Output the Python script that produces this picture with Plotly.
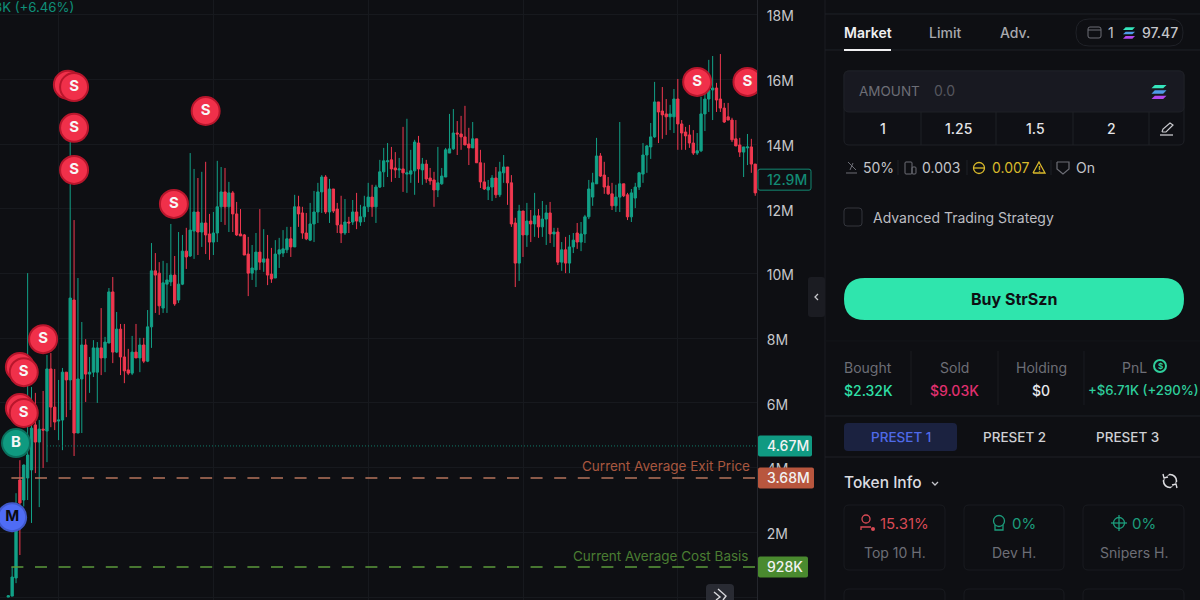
import plotly.graph_objects as go

BG = '#0e0f13'
GREEN = '#12a187'
RED = '#f0384f'
FONT = 'Inter'

opens = [0.0, 0.03, 0.59, 3.62, 3.0, 3.68, 3.93, 5.32, 4.79, 5.19, 5.13, 7.05, 5.87, 5.44, 5.47, 6.95, 6.71, 9.18, 5.07, 6.74,
         7.79, 6.89, 6.95, 6.95, 7.7, 7.39, 7.85, 9.43, 7.57, 8.28, 7.42, 7.02, 6.92, 7.57, 7.39, 7.79, 7.29, 8.35, 10.08, 10.01,
         8.93, 9.67, 9.74, 9.95, 9.18, 9.67, 10.69, 10.54, 11.31, 11.9, 11.28, 11.56, 11.22, 10.97, 11.25, 12.06, 12.52, 12.06, 12.49, 11.84,
         11.22, 11.19, 10.6, 10.01, 10.11, 10.66, 10.35, 10.45, 9.98, 9.86, 10.6, 10.63, 10.73, 11.07, 10.82, 12.06, 11.87, 11.25, 11.03, 11.53,
         11.9, 12.52, 12.98, 11.9, 12.61, 11.99, 11.5, 11.25, 11.59, 11.59, 11.9, 11.59, 11.75, 12.06, 12.36, 12.06, 12.67, 13.14, 13.45, 13.51,
         13.26, 13.2, 13.23, 13.07, 13.07, 13.17, 14.03, 13.2, 13.38, 12.95, 12.89, 12.58, 12.77, 12.98, 13.72, 13.85, 14.34, 14.31, 14.22, 14.0,
         13.88, 14.16, 13.42, 12.83, 12.58, 12.67, 12.95, 12.43, 13.11, 13.29, 12.8, 11.56, 10.32, 11.93, 11.19, 11.62, 11.53, 11.78, 11.44, 11.68,
         11.87, 11.22, 11.28, 10.35, 10.73, 10.32, 10.82, 11.25, 10.97, 11.22, 11.75, 12.36, 12.77, 13.63, 13.04, 12.7, 12.46, 12.09, 12.36, 12.77,
         12.43, 11.75, 12.33, 12.67, 13.07, 13.66, 13.91, 14.22, 15.3, 15.02, 14.93, 14.84, 14.84, 15.39, 14.62, 14.37, 14.28, 14.03, 13.72, 13.79,
         14.93, 15.39, 15.67, 15.73, 15.39, 15.11, 14.84, 14.74, 14.16, 13.97, 13.75, 13.88, 13.91, 13.38]
highs = [0.06, 0.93, 3.21, 4.23, 4.1, 10.01, 6.49, 6.31, 5.47, 6.37, 7.48, 7.54, 7.05, 6.71, 7.08, 6.95, 14.13, 11.65, 9.86, 8.5,
         7.97, 7.42, 7.94, 7.88, 8.93, 8.04, 9.55, 9.89, 8.81, 8.44, 8.44, 7.67, 8.07, 8.44, 8.01, 8.01, 8.87, 10.94, 10.63, 10.35,
         10.39, 10.32, 11.53, 10.54, 11.28, 11.19, 11.41, 13.72, 13.23, 12.95, 13.14, 13.45, 11.84, 11.9, 13.48, 13.29, 13.26, 12.83, 12.55, 12.21,
         11.99, 11.22, 11.13, 10.88, 11.25, 11.99, 11.37, 11.19, 10.79, 11.03, 11.1, 11.34, 11.44, 11.44, 12.43, 12.4, 12.06, 11.87, 12.18, 12.55,
         12.8, 13.04, 13.04, 12.92, 12.61, 12.18, 12.4, 12.3, 11.75, 12.27, 12.49, 12.12, 12.4, 12.8, 12.74, 12.74, 13.51, 13.88, 14.03, 13.91,
         13.75, 13.57, 14.53, 14.78, 13.82, 14.13, 14.25, 13.57, 13.51, 13.26, 13.14, 13.91, 13.26, 13.88, 14.93, 15.08, 14.71, 14.87, 15.18, 14.5,
         14.68, 14.16, 13.82, 13.42, 12.89, 13.04, 13.29, 13.45, 13.66, 13.29, 13.04, 11.72, 12.12, 11.93, 12.18, 11.96, 12.49, 11.99, 12.24, 12.12,
         12.21, 11.41, 11.41, 10.97, 11.13, 11.19, 11.25, 11.56, 11.59, 11.81, 12.89, 13.11, 14.19, 13.72, 13.45, 12.98, 12.8, 12.74, 14.68, 12.77,
         12.49, 12.61, 12.8, 13.14, 14.03, 13.97, 14.65, 15.92, 15.3, 15.76, 15.39, 15.21, 15.7, 16.01, 14.74, 14.53, 14.59, 14.43, 14.34, 15.46,
         15.58, 16.6, 16.72, 15.89, 16.78, 15.27, 15.27, 14.81, 14.74, 14.19, 13.91, 14.31, 14.16, 13.38]
lows = [0.0, 0.03, 0.43, 1.3, 2.8, 3.0, 2.29, 3.83, 2.78, 3.99, 4.17, 5.25, 5.16, 4.85, 4.54, 5.56, 5.78, 4.36, 5.07, 5.07,
        6.03, 6.31, 6.8, 6.0, 6.86, 6.95, 7.85, 7.23, 7.54, 6.86, 6.61, 6.86, 6.86, 7.39, 6.95, 7.23, 7.26, 7.7, 8.78, 8.72,
        8.78, 8.78, 9.61, 9.0, 9.09, 9.64, 10.14, 10.51, 10.45, 10.57, 10.82, 10.6, 10.42, 10.57, 10.97, 11.59, 11.5, 11.28, 11.28, 11.16,
        11.16, 10.57, 9.3, 9.8, 9.58, 10.11, 10.05, 9.64, 9.71, 9.86, 10.17, 10.51, 10.63, 10.51, 10.82, 11.44, 11.07, 11.03, 11.0, 10.97,
        11.56, 11.87, 11.84, 11.56, 11.87, 11.25, 10.94, 11.19, 11.25, 11.5, 11.37, 11.47, 11.59, 11.9, 11.75, 11.56, 12.64, 12.67, 12.98, 12.83,
        12.95, 12.95, 12.52, 12.49, 12.8, 12.43, 12.8, 12.74, 12.8, 12.74, 12.06, 12.36, 12.74, 12.98, 13.72, 13.82, 13.66, 13.82, 13.97, 13.35,
        13.88, 13.42, 12.64, 12.58, 12.27, 12.24, 12.33, 12.36, 12.8, 12.12, 11.44, 9.58, 9.77, 10.51, 10.82, 10.97, 11.13, 11.1, 11.13, 10.88,
        10.94, 10.82, 10.26, 10.08, 10.01, 10.01, 10.63, 10.76, 10.69, 10.94, 11.68, 12.09, 12.77, 12.98, 12.46, 12.43, 11.96, 11.9, 11.9, 12.36,
        11.65, 11.59, 12.02, 12.58, 12.8, 13.11, 13.54, 14.19, 14.03, 14.16, 14.28, 14.43, 14.34, 13.82, 13.82, 13.82, 13.88, 13.66, 13.66, 13.75,
        14.4, 14.99, 14.74, 14.99, 14.99, 14.65, 14.74, 14.06, 13.94, 13.6, 12.98, 13.35, 13.11, 12.4]
closes = [0.04, 0.62, 2.07, 2.91, 4.08, 4.39, 5.22, 4.79, 5.19, 5.16, 7.05, 5.87, 5.41, 5.47, 6.95, 6.71, 9.24, 5.07, 6.74, 7.79,
          6.89, 6.95, 7.7, 7.7, 7.39, 7.88, 9.43, 7.57, 8.28, 7.42, 6.99, 6.92, 7.57, 7.39, 7.79, 7.29, 8.35, 10.08, 9.95, 9.0,
          9.71, 9.8, 9.95, 9.06, 9.67, 10.69, 10.51, 11.34, 11.9, 11.28, 11.56, 11.19, 10.97, 11.25, 12.06, 12.52, 12.06, 12.49, 11.84, 11.19,
          11.16, 10.57, 10.01, 10.17, 10.66, 10.35, 10.45, 9.95, 9.83, 10.6, 10.73, 10.76, 11.07, 10.82, 12.06, 11.84, 11.25, 11.07, 11.53, 11.9,
          12.52, 12.98, 11.9, 12.61, 11.93, 11.5, 11.25, 11.59, 11.56, 11.9, 11.62, 11.75, 12.06, 12.36, 12.06, 12.67, 13.14, 13.48, 13.48, 13.23,
          13.2, 13.23, 13.11, 13.11, 13.17, 14.06, 13.23, 13.38, 12.92, 12.86, 12.58, 12.8, 13.01, 13.82, 13.85, 14.34, 14.31, 14.22, 13.97, 13.88,
          14.16, 13.42, 12.83, 12.61, 12.67, 12.95, 12.43, 13.14, 13.29, 12.8, 11.53, 10.32, 11.93, 11.19, 11.62, 11.53, 11.78, 11.44, 11.68, 11.87,
          11.22, 11.28, 10.35, 10.73, 10.32, 10.82, 11.03, 10.97, 11.22, 11.75, 12.61, 12.8, 13.63, 13.01, 12.67, 12.46, 12.09, 12.36, 12.77, 12.4,
          11.75, 12.49, 12.67, 13.11, 13.66, 13.94, 14.22, 15.3, 14.99, 14.9, 14.84, 14.93, 15.39, 14.62, 14.34, 14.25, 14.03, 13.72, 13.79, 14.93,
          15.39, 15.67, 15.73, 15.36, 15.11, 14.68, 14.74, 14.13, 13.94, 13.75, 13.91, 13.91, 13.38, 12.49]

y_ticks = [0, 2, 4, 6, 8, 10, 12, 14, 16, 18]
y_tick_labels = ['0', '2M', '4M', '6M', '8M', '10M', '12M', '14M', '16M', '18M']
x_grid = [13, 53, 93, 133, 173]

sell_idx = [15.4, 17, 17, 17, 51, 42.8, 9, 3, 4, 3, 4, 178, 191]
sell_price = [15.83, 15.76, 14.5, 13.2, 15.02, 12.15, 7.97, 7.11, 6.95, 5.84, 5.69, 15.92, 15.92]
sell_text = ['', 'S', 'S', 'S', 'S', 'S', 'S', '', 'S', '', 'S', 'S', 'S']
buy_idx = [2]
buy_price = [4.76]
migrate_idx = [1]
migrate_price = [2.47]

last_level = 4.67
exit_level = 3.68
cost_level = 0.928
current_price = 12.9

Y_LOW = -0.09
Y_HIGH = 18.45
LABEL_NUDGE = 0.06  # tick labels sit about 2px under their grid line


# everything outside the plot is laid out in screen pixels
def px(x):
    return x / 1200


def py(y):
    return 1 - y / 600


def pth(d_pts, closed=False):
    d = ''
    for i, (x, y) in enumerate(d_pts):
        d += ('M' if i == 0 else 'L') + f'{px(x):.5f},{py(y):.5f}'
    return d + ('Z' if closed else '')


shapes = []
notes = []


def rr(x0, y0, x1, y1, r, fill=None, line=None, lw=1):
    d = (f'M{px(x0 + r):.5f},{py(y0):.5f}L{px(x1 - r):.5f},{py(y0):.5f}Q{px(x1):.5f},{py(y0):.5f} {px(x1):.5f},{py(y0 + r):.5f}'
         f'L{px(x1):.5f},{py(y1 - r):.5f}Q{px(x1):.5f},{py(y1):.5f} {px(x1 - r):.5f},{py(y1):.5f}'
         f'L{px(x0 + r):.5f},{py(y1):.5f}Q{px(x0):.5f},{py(y1):.5f} {px(x0):.5f},{py(y1 - r):.5f}'
         f'L{px(x0):.5f},{py(y0 + r):.5f}Q{px(x0):.5f},{py(y0):.5f} {px(x0 + r):.5f},{py(y0):.5f}Z')
    shapes.append(dict(type='path', xref='paper', yref='paper', path=d, fillcolor=fill or 'rgba(0,0,0,0)',
                       line=dict(color=line or 'rgba(0,0,0,0)', width=lw if line else 0)))


def ln(pts, color, lw=1):
    shapes.append(dict(type='path', xref='paper', yref='paper', path=pth(pts), line=dict(color=color, width=lw)))


def poly(pts, fill):
    shapes.append(dict(type='path', xref='paper', yref='paper', path=pth(pts, True), fillcolor=fill, line=dict(width=0)))


def circ(cx, cy, r, line=None, fill=None, lw=1.2):
    shapes.append(dict(type='circle', xref='paper', yref='paper', x0=px(cx - r), x1=px(cx + r), y0=py(cy + r), y1=py(cy - r),
                       fillcolor=fill or 'rgba(0,0,0,0)', line=dict(color=line or 'rgba(0,0,0,0)', width=lw if line else 0)))


def txt(x, y, s, color, size=14, anchor='center', weight=400):
    # annotations pad their box by a couple of px
    if anchor == 'left':
        x -= 2
    if anchor == 'right':
        x += 2
    notes.append(dict(xref='paper', yref='paper', x=px(x), y=py(y), text=s, showarrow=False, xanchor=anchor, yanchor='middle',
                      font=dict(family=FONT, size=size, color=color, weight=weight)))


def solana(cx, cy, w):
    h = w * 0.22
    cols = ['#35e6bd', '#4f9be8', '#b347ee']
    for k, c in enumerate(cols):
        yy = cy + (k - 1) * w * 0.36
        poly([(cx - w / 2 + h, yy - h / 2), (cx + w / 2, yy - h / 2), (cx + w / 2 - h, yy + h / 2), (cx - w / 2, yy + h / 2)], c)


# price tags sit on the axis, tied to their price level
def tag(level, label, x1, fill, color, border=None):
    half = 10.5
    top = (597 - level / 0.03091 - half)
    rr(758, top, x1, top + 2 * half, 2, fill=fill, line=border)
    txt(767, top + half, label, color, 14, 'left', weight=500)


GRAY = '#6d6e76'
LIGHT = '#c4c5ca'
EDGE = '#1f2127'

# right hand panel
ln([(825, 0), (825, 600)], '#1b1d22')
ln([(825, 14), (1200, 14)], EDGE)
ln([(825, 50), (1200, 50)], EDGE)
txt(844, 32, 'Market', '#f0f0f2', 14, 'left', 600)
ln([(844, 50), (891, 50)], '#f0f0f2', 2)
txt(929, 32, 'Limit', '#a8a9ae', 14, 'left', 500)
txt(1000, 32, 'Adv.', '#a8a9ae', 14, 'left', 500)
rr(1076, 19, 1183, 46, 13, line=EDGE)
rr(1088, 27, 1101, 38, 2, line=GRAY)
ln([(1088, 30), (1101, 30)], GRAY)
txt(1111, 32, '1', LIGHT, 14)
solana(1129, 33, 12)
txt(1160, 32, '97.47', LIGHT, 14, weight=500)

rr(844, 71, 1184, 145, 5, fill='#0f1015', line=EDGE)
rr(844, 71, 1184, 112, 5, fill='#181921', line=EDGE)
txt(859, 91, 'AMOUNT', GRAY, 13.5, 'left')
txt(934, 91, '0.0', '#55565e', 14, 'left')
solana(1159, 92, 15)
for sx in [921, 996, 1073, 1149]:
    ln([(sx, 112), (sx, 145)], EDGE)
for cx, s in [(883, '1'), (958, '1.25'), (1035, '1.5'), (1111, '2')]:
    txt(cx, 129, s, '#e4e4e8', 14, weight=500)
ln([(1160, 135), (1173, 135)], '#c9c9ce', 1.3)
ln([(1162, 132), (1163, 129), (1170, 123), (1173, 125), (1166, 132), (1162, 132)], '#c9c9ce', 1.2)

ln([(846, 173), (857, 173)], GRAY)
ln([(848, 162), (856, 170)], GRAY)
ln([(850, 170), (853, 163)], GRAY)
txt(863, 167, '50%', LIGHT, 14, 'left')
ln([(898, 160), (898, 175)], EDGE)
rr(905, 162, 912, 174, 1, line=GRAY)
rr(912, 167, 916, 174, 1, line=GRAY)
txt(922, 167, '0.003', LIGHT, 14, 'left')
ln([(967, 160), (967, 175)], EDGE)
circ(979, 168, 5.5, line='#d9b92b', lw=1.3)
ln([(974, 168), (985, 168)], '#d9b92b', 1.3)
txt(992, 167, '0.007', '#d9b92b', 14, 'left')
ln([(1033, 173), (1039, 162), (1045, 173), (1033, 173)], '#d9b92b', 1.3)
txt(1039, 169, '!', '#d9b92b', 8, weight=700)
ln([(1051, 160), (1051, 175)], EDGE)
ln([(1057, 162), (1069, 162), (1069, 169), (1063, 174), (1057, 169), (1057, 162)], GRAY, 1.2)
txt(1076, 167, 'On', LIGHT, 14, 'left')

rr(844, 208, 862, 226, 3, line='#34363d')
txt(873, 217, 'Advanced Trading Strategy', '#bcbdc2', 14, 'left', 400)

rr(844, 278, 1184, 320, 21, fill='#2fe5ad')
txt(1014, 299, 'Buy StrSzn', '#0e1013', 16, weight=700)

ln([(825, 341), (1200, 341)], '#14161a')
for sx in [911, 998, 1084]:
    ln([(sx, 351), (sx, 405)], '#1a1c21')
txt(868, 367, 'Bought', GRAY, 14)
txt(868, 390, '$2.32K', '#2fe0a8', 14, weight=500)
txt(954, 367, 'Sold', GRAY, 14)
txt(954, 390, '$9.03K', '#e0306f', 14, weight=500)
txt(1041, 367, 'Holding', GRAY, 14)
txt(1041, 390, '$0', '#e8e8ec', 14, weight=500)
txt(1134, 367, 'PnL', GRAY, 14)
circ(1160, 366, 6, line='#2fce9c', lw=2)
txt(1160, 366, '$', '#2fce9c', 8, weight=700)
txt(1143.5, 390, '+$6.71K (+290%)', '#2fce9c', 13.2, weight=500)

ln([(825, 416), (1200, 416)], EDGE)
ln([(825, 457), (1200, 457)], EDGE)
rr(844, 423, 957, 451, 4, fill='#1b2240')
txt(901, 437, 'PRESET 1', '#4f6ae8', 13.5, weight=500)
txt(1014, 437, 'PRESET 2', '#cfd0d4', 13.5, weight=500)
txt(1127, 437, 'PRESET 3', '#cfd0d4', 13.5, weight=500)

txt(844, 482, 'Token Info', '#dcdce0', 15.5, 'left', 500)
ln([(932, 482), (935, 485), (938, 482)], '#c4c5ca', 1.3)
circ(1170, 481, 6.5, line='#dcdce0', lw=1.6)
ln([(1162, 479), (1168, 473)], BG, 3)
ln([(1178, 483), (1172, 489)], BG, 3)
ln([(1163, 474), (1164, 478), (1168, 477)], '#dcdce0', 1.4)
ln([(1177, 488), (1176, 484), (1172, 485)], '#dcdce0', 1.4)

for x0, x1 in [(844, 945), (964, 1064), (1083, 1184)]:
    rr(x0, 505, x1, 570, 5, line='#191b20')
    rr(x0, 589, x1, 640, 5, line='#191b20')

circ(866, 519, 4, line='#d84a55', lw=1.3)
ln([(861, 530), (861, 527), (871, 527)], '#d84a55', 1.3)
circ(873, 529, 2, fill='#d84a55')
txt(880, 523, '15.31%', '#d84a55', 15, 'left')
txt(895, 552, 'Top 10 H.', GRAY, 14)
circ(999, 521, 5.5, line='#1c9c7c', lw=1.3)
ln([(995, 525), (995, 530), (1003, 530), (1003, 525)], '#1c9c7c', 1.3)
txt(1012, 523, '0%', '#1c9c7c', 15, 'left')
txt(1014, 552, 'Dev H.', GRAY, 14)
circ(1119, 523, 5.5, line='#1c9c7c', lw=1.3)
ln([(1119, 515), (1119, 531)], '#1c9c7c', 1.3)
ln([(1111, 523), (1127, 523)], '#1c9c7c', 1.3)
txt(1132, 523, '0%', '#1c9c7c', 15, 'left')
txt(1134, 552, 'Snipers H.', GRAY, 14)

# bits on the chart side
rr(808, 277, 825, 317, 3, fill='#1b1c22')
ln([(818, 294), (815, 297), (818, 300)], '#c8c8cc', 1.3)
rr(706, 584, 734, 612, 4, fill='#292b33')
ln([(714, 592), (720, 597), (716, 600)], '#d8d8dc', 1.4)
ln([(718, 589), (726, 596), (723, 600)], '#d8d8dc', 1.4)

txt(74, 7, '3K (+6.46%)', '#0f9079', 13.2, 'right')
txt(750, 466, 'Current Average Exit Price', '#a9573f', 13.5, 'right')
txt(749, 556, 'Current Average Cost Basis', '#4a7d32', 13.5, 'right')

tag(last_level, '4.67M', 812, '#109a82', '#f2f2f2')
tag(exit_level, '3.68M', 814, '#b8563e', '#f2f2f2')
tag(cost_level, '928K', 808, '#4a8a2f', '#f2f2f2')
tag(current_price, '12.9M', 811, BG, '#138a73', '#138a73')

fig = go.Figure()
fig.add_trace(go.Candlestick(x=list(range(len(opens))), open=opens, high=highs, low=lows, close=closes,
                             increasing=dict(line=dict(color=GREEN, width=1), fillcolor=GREEN),
                             decreasing=dict(line=dict(color=RED, width=1), fillcolor=RED),
                             whiskerwidth=0, hoverinfo='skip'))

x_end = len(opens)
fig.add_scatter(x=[10, x_end], y=[last_level, last_level], mode='lines', line=dict(color='#0f7f6c', width=1, dash='1px,2px'), hoverinfo='skip')
fig.add_scatter(x=[0.8, x_end], y=[exit_level, exit_level], mode='lines', line=dict(color='#b5745c', width=1.5, dash='12px,11.6px'), hoverinfo='skip')
fig.add_scatter(x=[0.8, x_end], y=[cost_level, cost_level], mode='lines', line=dict(color='#5c9a3c', width=1.5, dash='12px,11.6px'), hoverinfo='skip')

fig.add_scatter(x=sell_idx, y=sell_price, mode='markers+text', text=sell_text, textposition='middle center',
                marker=dict(size=28, color='#f0304a', line=dict(color='#b8162c', width=2)),
                textfont=dict(family=FONT, size=15, color='#f7f7f7', weight=700), hoverinfo='skip')
fig.add_scatter(x=buy_idx, y=buy_price, mode='markers+text', text=['B'], textposition='middle center',
                marker=dict(size=28, color='#0f9a80', line=dict(color='#0b6f5d', width=2)),
                textfont=dict(family=FONT, size=15, color='#f7f7f7', weight=700), hoverinfo='skip')
fig.add_scatter(x=migrate_idx, y=migrate_price, mode='markers+text', text=['M'], textposition='middle center',
                marker=dict(size=28, color='#4f6cf5', line=dict(color='#4059cc', width=2)),
                textfont=dict(family=FONT, size=15, color='#0a0b10', weight=700), hoverinfo='skip')

# empty trace so the label axis gets drawn
fig.add_scatter(x=[0], y=[0], yaxis='y2', mode='markers', marker=dict(opacity=0), hoverinfo='skip')

fig.update_layout(
    width=1200, height=600, margin=dict(l=0, r=0, t=0, b=0), paper_bgcolor=BG, plot_bgcolor=BG,
    showlegend=False, boxgap=0.25, boxgroupgap=0.2, shapes=shapes, annotations=notes,
    font=dict(family=FONT),
    xaxis=dict(domain=[0, 757 / 1200], range=[-2.14, 193.46], rangeslider=dict(visible=False), tickvals=x_grid,
               showticklabels=False, ticks='', showgrid=True, gridcolor='#17191e', gridwidth=1, zeroline=False),
    yaxis=dict(side='right', range=[Y_LOW, Y_HIGH], tickvals=y_ticks, showticklabels=False, showgrid=True, gridcolor='#17191e',
               gridwidth=1, zeroline=False, showline=True, linecolor='#24262c', ticks=''),
    yaxis2=dict(overlaying='y', side='right', anchor='x', range=[Y_LOW + LABEL_NUDGE, Y_HIGH + LABEL_NUDGE], tickvals=y_ticks,
                ticktext=y_tick_labels, showgrid=False, zeroline=False, showline=False, ticks='outside', ticklen=6,
                tickcolor='rgba(0,0,0,0)', tickfont=dict(family=FONT, size=14, color='#c6c7cb')),
)

fig.write_html("out.html", config=dict(displayModeBar=False),
               post_script="document.body.style.margin='0';document.body.style.background='" + BG + "';")
